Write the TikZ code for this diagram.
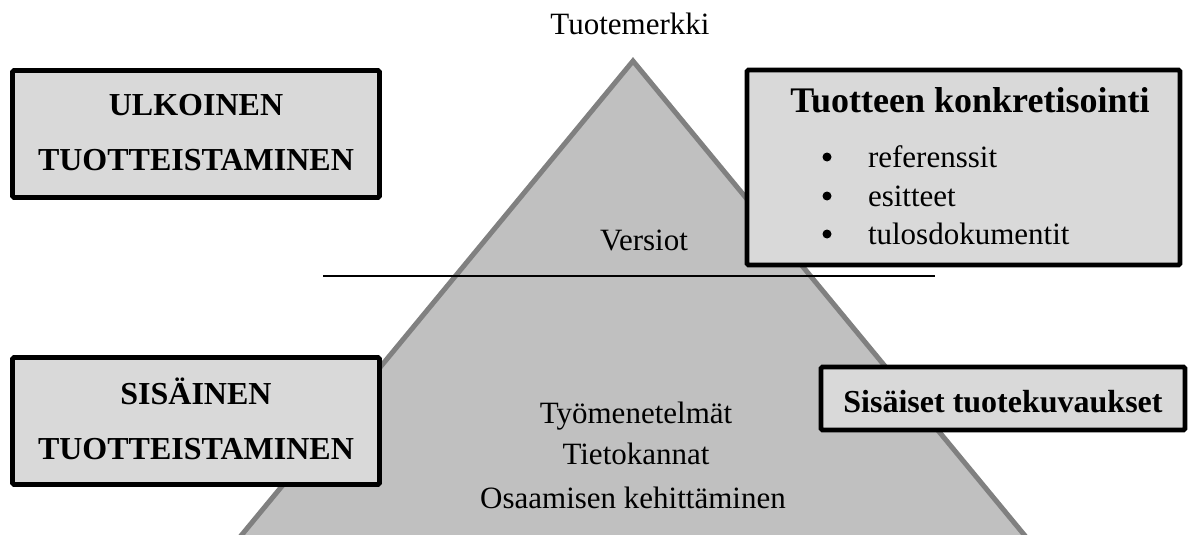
\documentclass[tikz,border=0pt]{standalone}
\usepackage{fontspec}
\setmainfont{Liberation Serif}
\usetikzlibrary{shadows}
\definecolor{pyramidfill}{HTML}{C0C0C0}
\definecolor{pyramidedge}{HTML}{808080}
\definecolor{boxfill}{HTML}{D9D9D9}
\begin{document}
\begin{tikzpicture}[x=1pt,y=-1pt,
  every node/.style={font=\fontsize{31}{37}\selectfont, inner sep=0pt, outer sep=0pt},
  panel/.style={draw=black, line width=4.8pt, fill=boxfill, rounded corners=1.5pt,
    drop shadow={shadow xshift=1.5pt, shadow yshift=-1.5pt, fill=black, opacity=0.35}},
  heading/.style={font=\fontsize{32}{38}\selectfont\bfseries, anchor=base},
  title/.style={font=\fontsize{36}{42}\selectfont\bfseries, anchor=base},
  plain/.style={anchor=base},
  item/.style={anchor=base west},
  dot/.style={circle, fill=black, minimum size=9pt},
  pyramid/.style={draw=pyramidedge, fill=pyramidfill, line width=5pt, line join=miter},
  divider/.style={draw=black, line width=2pt}
]
\useasboundingbox (0,0) rectangle (1195,535);
\clip (0,0) rectangle (1195,535);

% the pyramid, its base running below the page edge
\coordinate (apex) at (633,61);
\coordinate (baseR) at (1045,560);
\coordinate (baseL) at (221,560);
\draw[pyramid] (apex) -- (baseR) -- (baseL) -- cycle;

\node[plain] (brand) at (630,35) {Tuotemerkki};

% horizontal divider across the pyramid
\coordinate (divL) at (323,276);
\coordinate (divR) at (935,276);
\draw[divider] (divL) -- (divR);

\node[plain] (versions) at (644,250) {Versiot};
\node[plain] (methods) at (636,423) {Työmenetelmät};
\node[plain] (databases) at (636,464) {Tietokannat};
\node[plain] (skills) at (633,508) {Osaamisen kehittäminen};

% external productisation
\node[panel, minimum width=367pt, minimum height=127pt] (external) at (196,134) {};
\node[heading] (externalA) at (196,115) {ULKOINEN};
\node[heading] (externalB) at (196,170) {TUOTTEISTAMINEN};

% concretising the product
\node[panel, minimum width=433pt, minimum height=195pt] (concrete) at (963.5,167.5) {};
\node[title] (concreteT) at (970,112) {Tuotteen konkretisointi};
\node[dot] (b1) at (827,157) {};
\node[item] (i1) at (868,167) {referenssit};
\node[dot] (b2) at (827,196) {};
\node[item] (i2) at (868,206) {esitteet};
\node[dot] (b3) at (827,234) {};
\node[item] (i3) at (868,244) {tulosdokumentit};

% internal productisation
\node[panel, minimum width=367pt, minimum height=127pt] (internal) at (196,421) {};
\node[heading] (internalA) at (196,404) {SISÄINEN};
\node[heading] (internalB) at (196,459) {TUOTTEISTAMINEN};

% internal product descriptions
\node[panel, minimum width=364pt, minimum height=63pt] (descr) at (1003,398.5) {};
\node[heading] (descrT) at (1003,412) {Sisäiset tuotekuvaukset};
\end{tikzpicture}
\end{document}
